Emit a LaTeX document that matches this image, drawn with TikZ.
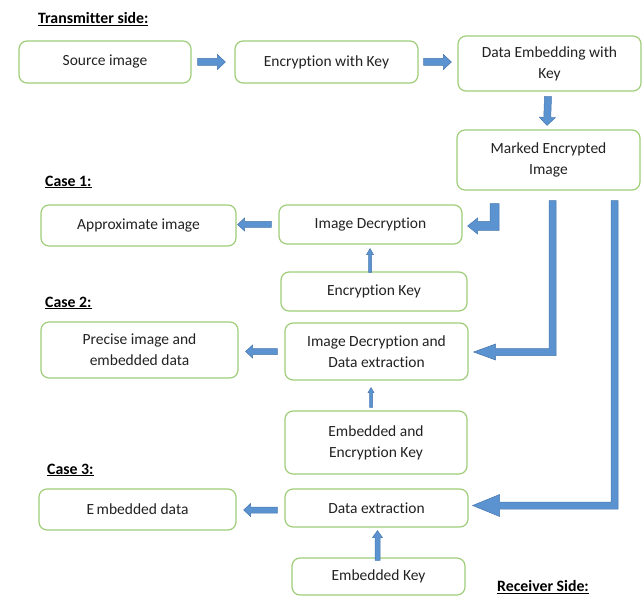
\documentclass[tikz,border=0pt]{standalone}
\usepackage{fontspec}
\setmainfont{Carlito}[Ligatures=NoCommon]
\usetikzlibrary{calc}
\definecolor{boxgreen}{HTML}{9FCD78}
\definecolor{arrfill}{HTML}{5B93D0}
\definecolor{arredge}{HTML}{4677AE}
\definecolor{txt}{HTML}{222222}
\tikzset{
  box/.style={draw=boxgreen, line width=1.2pt, rounded corners=8pt, fill=white,
    align=center, text=txt, inner sep=2pt, font=\fontsize{15.5}{21}\selectfont},
  head/.style={anchor=west, text=black, inner sep=0pt, font=\fontsize{15.8}{21}\selectfont\bfseries},
  blockarrow/.style={fill=arrfill, draw=arredge, line width=0.5pt, line join=miter}
}
% straight block arrow: #1 tail, #2 tip, #3 half shaft, #4 half head, #5 head length
\newcommand\barrow[5]{%
  \path[blockarrow] let \p1=(#1), \p2=(#2),
      \n1={atan2(\y2-\y1,\x2-\x1)}, \n2={veclen(\x2-\x1,\y2-\y1)} in
    (\p1) -- ++(\n1+90:#3) -- ++(\n1:\n2-#5) -- ++(\n1+90:#4-#3) -- (\p2)
    -- ($(\p2)+(\n1+180:#5)+(\n1-90:#4)$) -- ++(\n1+90:#4-#3)
    -- ++(\n1+180:\n2-#5) -- cycle;}
% bent arrow: down from #1, then left to tip #2
\newcommand\bentarrow[5]{%
  \path[blockarrow] let \p1=(#1), \p2=(#2) in
    ({\x1-#3},{\y1}) -- ({\x1+#3},{\y1}) -- ({\x1+#3},{\y2-#3})
    -- ({\x2+#5},{\y2-#3}) -- ({\x2+#5},{\y2-#4}) -- (\p2)
    -- ({\x2+#5},{\y2+#4}) -- ({\x2+#5},{\y2+#3}) -- ({\x1-#3},{\y2+#3}) -- cycle;}
\begin{document}
\begin{tikzpicture}[x=1pt,y=1pt]
\useasboundingbox (0,0) rectangle (643,-596);
% headings
\node[head] (ht) at (38,-19) {\underline{Transmitter side:}};
\node[head] (h1) at (45,-182) {\underline{Case 1:}};
\node[head] (h2) at (45,-303) {\underline{Case 2:}};
\node[head] (h3) at (47,-470) {\underline{Case 3:}};
\node[head] (hr) at (497,-587) {\underline{Receiver Side:}};
% boxes
\node[box, minimum width=172pt, minimum height=42pt] (src) at (105,-62) {Source image};
\node[box, minimum width=183pt, minimum height=42pt] (enc) at (326.5,-62) {Encryption with Key};
\node[box, minimum width=183pt, minimum height=55pt] (emb) at (549.5,-63.5) {Data Embedding with\\Key};
\node[box, minimum width=183pt, minimum height=60pt] (mark) at (548.5,-160) {Marked Encrypted\\Image};
\node[box, minimum width=195pt, minimum height=41pt] (approx) at (138.5,-225.5) {Approximate image};
\node[box, minimum width=183pt, minimum height=39pt] (dec1) at (370.5,-224.5) {Image Decryption};
\node[box, minimum width=186pt, minimum height=39pt] (enckey) at (374,-291.5) {Encryption Key};
\node[box, minimum width=197pt, minimum height=56pt] (precise) at (139.5,-350) {Precise image and\\embedded data};
\node[box, minimum width=183pt, minimum height=57pt] (dec2) at (376.5,-351.5) {Image Decryption and\\Data extraction};
\node[box, minimum width=182pt, minimum height=63pt] (embenc) at (376,-442.5) {Embedded and\\Encryption Key};
\node[box, minimum width=197pt, minimum height=41pt] (embdata) at (137.5,-509.5) {E\,mbedded data};
\node[box, minimum width=183pt, minimum height=38pt] (dext) at (376.5,-508) {Data extraction};
\node[box, minimum width=173pt, minimum height=37pt] (embkey) at (378.5,-576.5) {Embedded Key};
% straight arrows
\barrow{$(src.east)+(6,0)$}{$(enc.west)+(-9,0)$}{3.5}{7.5}{8}
\barrow{$(enc.east)+(5,0)$}{$(enc.east -| emb.west)+(-6,0)$}{3.5}{7.5}{8}
\barrow{$(emb.south)+(-1.5,-5)$}{$(mark.north)+(-1.5,4)$}{3.5}{8}{8}
\barrow{$(dec1.west)+(-7,0)$}{$(dec1.west -| approx.east)+(1,0)$}{3}{6.5}{7}
\barrow{$(enckey.north)+(-4,-1)$}{$(dec1.south)+(-0.5,-4)$}{1.5}{3.5}{6}
\barrow{$(dec2.west)+(-7,0)$}{$(dec2.west -| precise.east)+(7,0)$}{3}{6.5}{7}
\barrow{$(embenc.north)+(-5,3)$}{$(dec2.south)+(-5.5,-7)$}{1.5}{3}{5}
\barrow{$(dext.west)+(-7,-2)$}{$(dext.west -| embdata.east)+(7,-2)$}{3}{6.5}{7}
\barrow{$(embkey.north)+(-1,-3)$}{$(dext.south)+(1,-3)$}{2.5}{5}{7}
% bent arrows from marked image
\coordinate (t1) at ($(mark.south)+(-54,-13)$);
\coordinate (t2) at ($(mark.south)+(4,-10)$);
\coordinate (t3) at ($(mark.south)+(66,-10)$);
\bentarrow{t1}{$(dec1.east)+(5,-1.5)$}{4.5}{8}{10}
\bentarrow{t2}{$(dec2.east)+(5,-0.5)$}{3.5}{8}{22}
\bentarrow{t3}{$(dext.east)+(4,2.5)$}{3.5}{11}{27}
\end{tikzpicture}
\end{document}
